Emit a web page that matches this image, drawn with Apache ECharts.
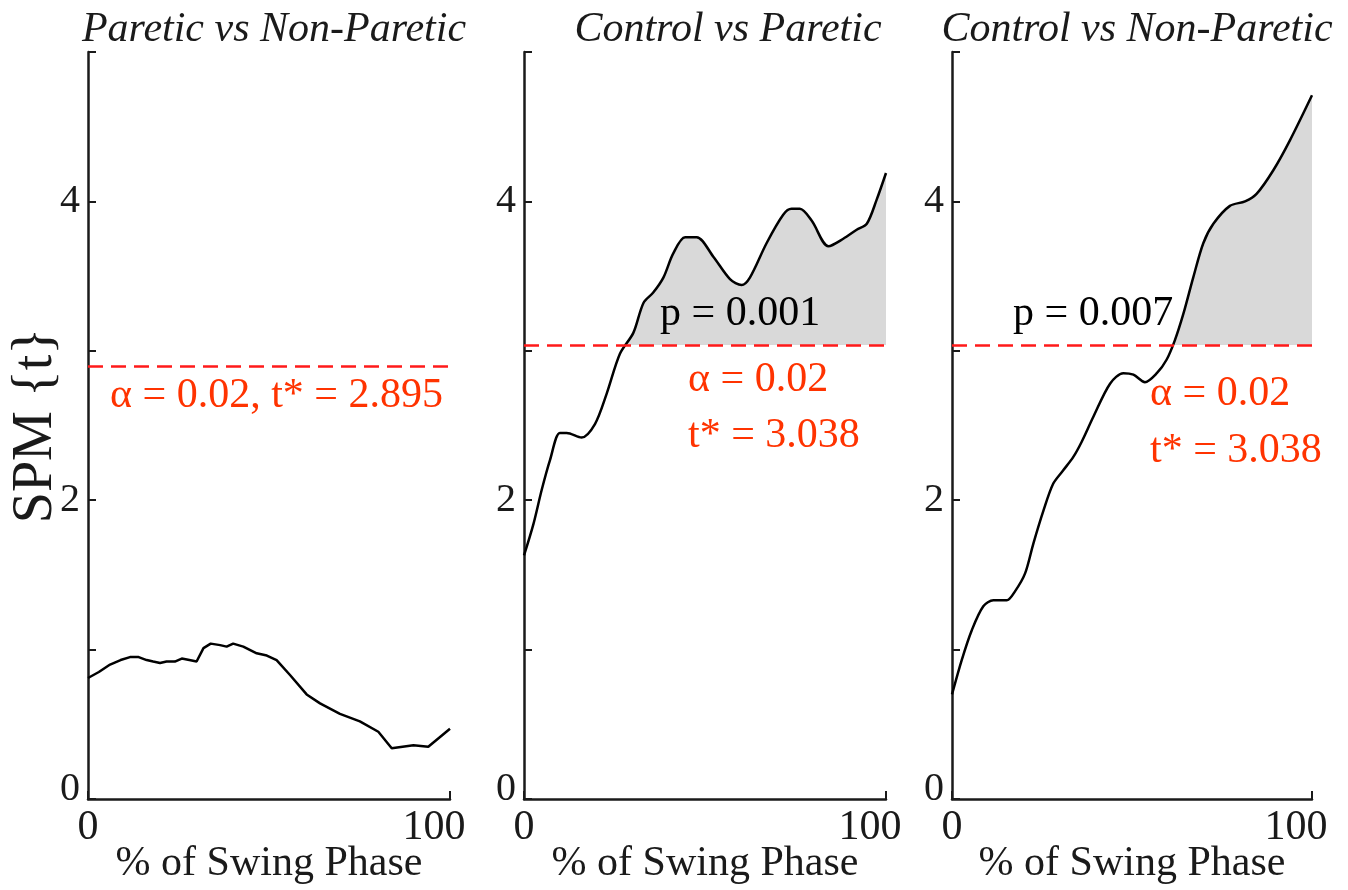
<!DOCTYPE html>
<html>
<head>
<meta charset="utf-8">
<script src="https://cdn.jsdelivr.net/npm/echarts@6/dist/echarts.min.js"></script>
<style>html,body{margin:0;padding:0;background:#fff}#c{width:1348px;height:890px}</style>
</head>
<body>
<div id="c"></div>
<script>
// ---- data ----
var titles = ['Paretic vs Non-Paretic', 'Control vs Paretic', 'Control vs Non-Paretic'];
var xTicks = [0, 100];
var yTicks = [0, 1, 2, 3, 4, 5];
var yTickLabels = ['0', '', '2', '', '4', ''];
var xName = '% of Swing Phase';
var yName = 'SPM {t}';

var p1X = [0, 3, 6.1, 9, 11.6, 14, 16.2, 18, 19.9, 21.7, 24, 25.9, 28, 30, 31.9, 33.9, 36.5, 38.3, 40.1, 42.9, 46.6, 49.4, 52.1, 55.8, 60.4, 64.1, 69.6, 75.1, 80.2, 83.9, 89.9, 94, 100];
var p1Y = [0.81, 0.85, 0.90, 0.93, 0.95, 0.95, 0.93, 0.92, 0.91, 0.92, 0.92, 0.94, 0.93, 0.92, 1.01, 1.04, 1.03, 1.02, 1.04, 1.02, 0.975, 0.96, 0.93, 0.83, 0.70, 0.64, 0.57, 0.52, 0.45, 0.34, 0.36, 0.35, 0.47];
var p1Thr = 2.895;

var p2X = [0, 2.6, 4.9, 7.2, 9.9, 11.8, 15.9, 19.6, 22.8, 26.5, 30.2, 33, 35.7, 38.5, 41.2, 44.5, 47.7, 52.3, 56.9, 60.1, 62.4, 67, 71.6, 73.9, 76.2, 79.5, 84.1, 88.2, 91.9, 94.7, 97.4, 100];
var p2Y = [1.63, 1.84, 2.07, 2.27, 2.45, 2.45, 2.42, 2.51, 2.71, 2.98, 3.12, 3.32, 3.39, 3.49, 3.65, 3.76, 3.76, 3.63, 3.48, 3.44, 3.49, 3.72, 3.91, 3.95, 3.95, 3.87, 3.70, 3.75, 3.81, 3.85, 4.01, 4.19];
var p2Thr = 3.038;

var p3X = [0, 2.7, 5.5, 8.7, 11.5, 15.2, 17.5, 20.3, 22.6, 25.4, 28.1, 30.9, 33.7, 36, 39.3, 43.9, 47.6, 50.4, 53.6, 56.9, 59.6, 61.9, 64.3, 67, 69.8, 72.6, 77.2, 81.4, 84.6, 89.3, 93.9, 100];
var p3Y = [0.70, 0.93, 1.13, 1.29, 1.33, 1.33, 1.39, 1.51, 1.71, 1.93, 2.11, 2.20, 2.29, 2.39, 2.56, 2.78, 2.85, 2.84, 2.79, 2.85, 2.94, 3.07, 3.25, 3.49, 3.72, 3.85, 3.97, 4.00, 4.05, 4.21, 4.41, 4.71];
var p3Thr = 3.038;

var pValues = ['', 'p = 0.001', 'p = 0.007'];
var alphaTexts = ['α = 0.02, t* = 2.895', 'α = 0.02', 'α = 0.02'];
var tstarTexts = ['', 't* = 3.038', 't* = 3.038'];

// ---- build ----
var SERIF = '"Liberation Serif", "DejaVu Serif", serif';
var RED = '#ff3300';
var panels = [
  {x: p1X, y: p1Y, thr: p1Thr, smooth: false},
  {x: p2X, y: p2Y, thr: p2Thr, smooth: 0.3},
  {x: p3X, y: p3Y, thr: p3Thr, smooth: 0.3}
];
var grids = [
  {left: 88, top: 52, width: 362, height: 747, outerBoundsMode: 'none', containLabel: false},
  {left: 524, top: 52, width: 362, height: 747, outerBoundsMode: 'none', containLabel: false},
  {left: 952, top: 52, width: 360, height: 747, outerBoundsMode: 'none', containLabel: false}
];

function pairs(xs, ys) { return xs.map(function (v, i) { return [v, ys[i]]; }); }
function supra(xs, ys, thr) {
  var out = [];
  for (var i = 0; i < xs.length; i++) {
    if (ys[i] >= thr) {
      if (i > 0 && ys[i - 1] < thr) {
        var t = (thr - ys[i - 1]) / (ys[i] - ys[i - 1]);
        out.push([xs[i - 1] + t * (xs[i] - xs[i - 1]), thr]);
      }
      out.push([xs[i], ys[i]]);
    } else if (i > 0 && ys[i - 1] >= thr) {
      var t2 = (thr - ys[i - 1]) / (ys[i] - ys[i - 1]);
      out.push([xs[i - 1] + t2 * (xs[i] - xs[i - 1]), thr]);
      out.push('-');
    }
  }
  return out;
}

var labelFont = {fontFamily: SERIF, fontSize: 42, color: '#1a1a1a'};
var xAxes = [], yAxes = [], series = [], titleArr = [];
panels.forEach(function (p, k) {
  xAxes.push({
    gridIndex: k, type: 'value', min: xTicks[0], max: xTicks[1], interval: xTicks[1] - xTicks[0],
    name: xName, nameLocation: 'middle', nameGap: 44, nameMoveOverlap: false,
    nameTextStyle: {fontFamily: SERIF, fontSize: 42, color: '#1a1a1a'},
    axisLine: {show: true, lineStyle: {color: '#1a1a1a', width: 2.5}},
    axisTick: {show: true, inside: true, length: 8, lineStyle: {color: '#1a1a1a', width: 2}},
    axisLabel: {fontFamily: SERIF, fontSize: 42, color: '#1a1a1a', margin: 8,
      formatter: function (v) { return v === xTicks[1] ? '{m|' + v + '}' : '' + v; },
      rich: {m: {fontFamily: SERIF, fontSize: 42, color: '#1a1a1a', padding: [0, 32, 0, 0]}}},
    splitLine: {show: false}
  });
  yAxes.push({
    gridIndex: k, type: 'value', min: yTicks[0], max: yTicks[yTicks.length - 1], interval: 1,
    name: k === 0 ? yName : '', nameLocation: 'middle', nameGap: 24, nameRotate: 90, nameMoveOverlap: false,
    nameTextStyle: {fontFamily: SERIF, fontSize: 56, color: '#1a1a1a'},
    axisLine: {show: true, lineStyle: {color: '#1a1a1a', width: 2.5}},
    axisTick: {show: true, inside: true, length: 8, lineStyle: {color: '#1a1a1a', width: 2}},
    axisLabel: {fontFamily: SERIF, fontSize: 40, color: '#1a1a1a', margin: 8,
      formatter: function (v) {
        var i = yTicks.indexOf(v); var s = i >= 0 ? yTickLabels[i] : '';
        return v === yTicks[0] ? '{z|' + s + '}' : s;
      },
      rich: {z: {fontFamily: SERIF, fontSize: 40, color: '#1a1a1a', padding: [0, 0, 20, 0]}}},
    splitLine: {show: false}
  });
  var fill = supra(p.x, p.y, p.thr);
  if (fill.length) {
    series.push({
      type: 'line', xAxisIndex: k, yAxisIndex: k, data: fill, smooth: p.smooth,
      showSymbol: false, symbol: 'none', silent: true, z: 1,
      lineStyle: {width: 0, opacity: 0},
      areaStyle: {color: '#d9d9d9', opacity: 1, origin: p.thr}
    });
  }
  series.push({
    type: 'line', xAxisIndex: k, yAxisIndex: k, data: pairs(p.x, p.y), smooth: p.smooth,
    showSymbol: false, symbol: 'none', z: 3,
    lineStyle: {color: '#000', width: 2.5},
    markLine: {
      silent: true, symbol: 'none', label: {show: false}, z: 4,
      lineStyle: {color: '#ff1a1a', width: 2.5, type: [15, 8]},
      data: [[{coord: [xTicks[0], p.thr]}, {coord: [xTicks[1], p.thr]}]]
    }
  });
  var g = grids[k];
  titleArr.push({
    text: titles[k], left: g.left + g.width / 2 + (k === 1 ? 18 : 0), top: 4, textAlign: 'center',
    textStyle: {fontFamily: SERIF, fontStyle: 'italic', fontWeight: 'normal', fontSize: 42, color: '#1a1a1a'}
  });
});

function txt(left, top, s, color) {
  return {type: 'text', left: left, top: top, z: 100, style: {text: s, fill: color, font: '42px ' + SERIF}};
}
var graphics = [
  txt(110, 375, alphaTexts[0], RED),
  txt(660, 293, pValues[1], '#000'),
  txt(688, 359, alphaTexts[1], RED),
  txt(688, 415, tstarTexts[1], RED),
  txt(1013, 293, pValues[2], '#000'),
  txt(1150, 373, alphaTexts[2], RED),
  txt(1150, 430, tstarTexts[2], RED)
];

var chart = echarts.init(document.getElementById('c'), null, {renderer: 'canvas'});
chart.setOption({
  animation: false,
  backgroundColor: '#fff',
  title: titleArr,
  grid: grids,
  xAxis: xAxes,
  yAxis: yAxes,
  series: series,
  graphic: graphics
});
</script>
</body>
</html>
